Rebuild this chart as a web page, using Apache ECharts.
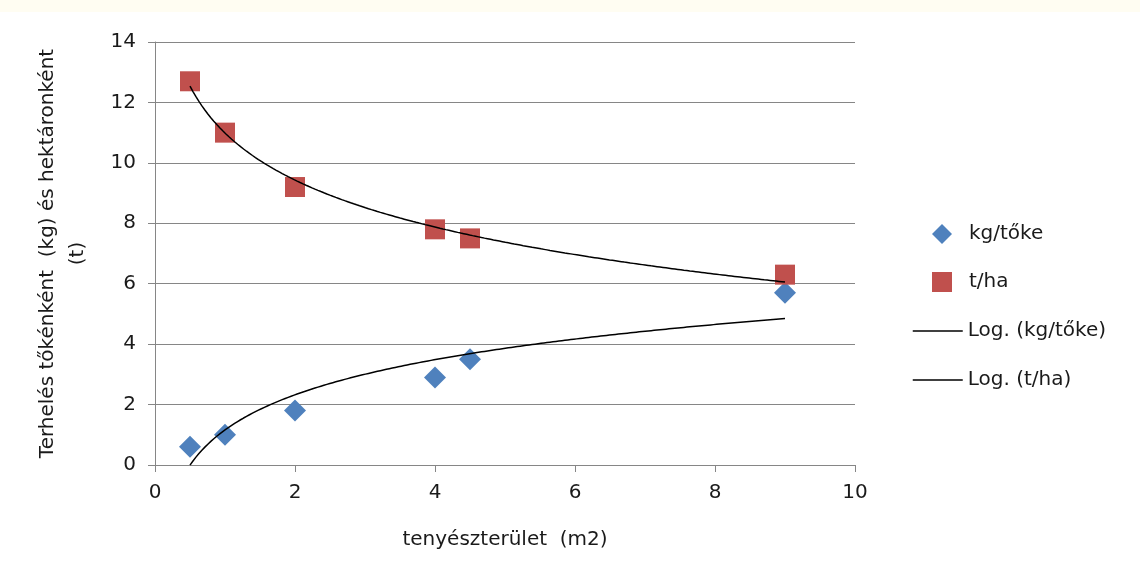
<!DOCTYPE html>
<html>
<head>
<meta charset="utf-8">
<title>Terhelés</title>
<script src="https://cdn.jsdelivr.net/npm/echarts@6/dist/echarts.min.js"></script>
<style>
    html, body { margin: 0; padding: 0; background: #ffffff; }
    #chart01 { width: 1140px; height: 585px; }
</style>
</head>
<body>
<div id="chart01"></div>
<script>
// tenyészterület (m2)
var area = [0.5, 1, 2, 4, 4.5, 9];
// kg/tőke
var kgPerStock = [0.6, 1.0, 1.8, 2.9, 3.5, 5.7];
// t/ha
var tPerHa = [12.7, 11.0, 9.2, 7.8, 7.5, 6.3];
var xTicks = [0, 2, 4, 6, 8, 10];
var yTicks = [0, 2, 4, 6, 8, 10, 12, 14];

// logaritmikus trendvonal (legkisebb négyzetek, y = a + b*ln(x)), mint az Excelben
function logFit(xs, ys) {
    var n = xs.length, mx = 0, my = 0, sxy = 0, sxx = 0;
    for (var i = 0; i < n; i++) { mx += Math.log(xs[i]); my += ys[i]; }
    mx /= n; my /= n;
    for (var j = 0; j < n; j++) {
        var dx = Math.log(xs[j]) - mx;
        sxy += dx * (ys[j] - my);
        sxx += dx * dx;
    }
    var b = sxy / sxx;
    return { a: my - b * mx, b: b };
}
function trendLine(xs, ys) {
    var f = logFit(xs, ys), out = [];
    var x0 = Math.min.apply(null, xs), x1 = Math.max.apply(null, xs);
    for (var k = 0; k <= 200; k++) {
        var x = x0 + (x1 - x0) * k / 200;
        out.push([x, f.a + f.b * Math.log(x)]);
    }
    return out;
}
function pairs(xs, ys) {
    return xs.map(function (x, i) { return [x, ys[i]]; });
}

var font = 'DejaVu Sans';
var txt = '#1a1a1a';
var chart01 = echarts.init(document.getElementById('chart01'));
var option = {
    animation: false,
    textStyle: { fontFamily: font },
    graphic: [{
        type: 'rect',
        shape: { x: 0, y: 0, width: 1140, height: 12 },
        style: { fill: '#fffdf2' },
        silent: true
    }],
    grid: { left: 155, right: 285, top: 42, bottom: 120 },
    legend: [
        {
            data: ['kg/tőke', 't/ha'],
            orient: 'vertical',
            left: 927,
            top: 219,
            itemWidth: 20,
            itemHeight: 20,
            itemGap: 28,
            textStyle: { fontFamily: font, fontSize: 20, lineHeight: 20, color: txt, padding: [0, 0, 0, 12] }
        },
        {
            data: ['Log. (kg/tőke)', 'Log. (t/ha)'],
            orient: 'vertical',
            left: 907,
            top: 316,
            itemWidth: 50,
            itemHeight: 18,
            itemGap: 29,
            itemStyle: { opacity: 0 },
            lineStyle: { width: 1.5, color: '#000' },
            textStyle: { fontFamily: font, fontSize: 20, lineHeight: 20, color: txt }
        }
    ],
    xAxis: {
        type: 'value',
        min: 0,
        max: 10,
        interval: 2,
        name: 'tenyészterület  (m2)',
        nameLocation: 'middle',
        nameGap: 65,
        nameTextStyle: { fontFamily: font, fontSize: 20, color: txt },
        axisLine: { lineStyle: { color: '#868686', width: 1 } },
        axisTick: { show: true, length: 7, lineStyle: { color: '#868686' } },
        axisLabel: {
            margin: 18, fontSize: 20, color: txt, fontFamily: font,
            formatter: function (v) { return xTicks.indexOf(v) >= 0 ? String(v) : ''; }
        },
        splitLine: { show: false }
    },
    yAxis: {
        type: 'value',
        min: 0,
        max: 14,
        interval: 2,
        name: 'Terhelés tőkénként  (kg) és hektáronként\n(t)',
        nameLocation: 'middle',
        nameGap: 62,
        nameTextStyle: { fontFamily: font, fontSize: 20, color: txt, lineHeight: 30 },
        axisLine: { show: true, lineStyle: { color: '#868686', width: 1 } },
        axisTick: { show: true, length: 7, lineStyle: { color: '#868686' } },
        axisLabel: {
            margin: 19, fontSize: 20, color: txt, fontFamily: font,
            formatter: function (v) { return yTicks.indexOf(v) >= 0 ? String(v) : ''; }
        },
        splitLine: { show: true, lineStyle: { color: '#868686', width: 1 } }
    },
    series: [
        {
            name: 'Log. (kg/tőke)',
            type: 'line',
            data: trendLine(area, kgPerStock),
            showSymbol: false,
            symbol: 'none',
            clip: true,
            lineStyle: { color: '#000', width: 1.5 },
            itemStyle: { color: '#000' },
            z: 3
        },
        {
            name: 'Log. (t/ha)',
            type: 'line',
            data: trendLine(area, tPerHa),
            showSymbol: false,
            symbol: 'none',
            clip: true,
            lineStyle: { color: '#000', width: 1.5 },
            itemStyle: { color: '#000' },
            z: 3
        },
        {
            name: 'kg/tőke',
            type: 'scatter',
            data: pairs(area, kgPerStock),
            symbol: 'diamond',
            symbolSize: 22,
            itemStyle: { color: '#4f81bd', opacity: 1 },
            z: 2
        },
        {
            name: 't/ha',
            type: 'scatter',
            data: pairs(area, tPerHa),
            symbol: 'rect',
            symbolSize: 20,
            itemStyle: { color: '#c0504d', opacity: 1 },
            z: 2
        }
    ]
};
chart01.setOption(option);
window.onresize = function () {
    chart01.resize();
};
</script>
</body>
</html>
